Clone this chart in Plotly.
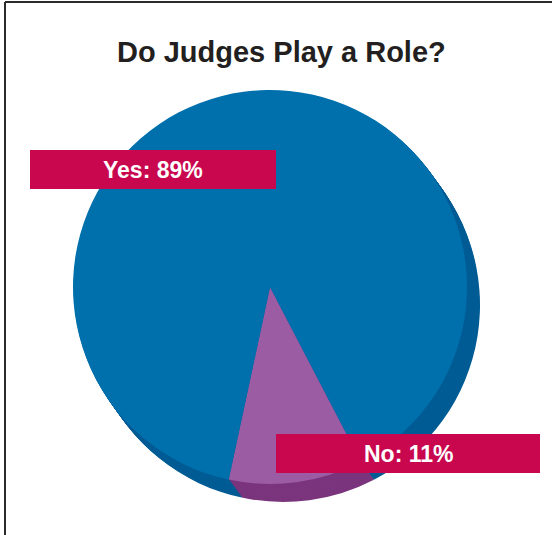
import plotly.graph_objects as go

# Survey result
labels = ["No", "Yes"]
values = [11, 89]

# Colours for the top face and the extruded side of each slice
face_colors = ["#9C5CA3", "#0070AD"]
side_colors = ["#7A357D", "#005C95"]
box_color = "#C8074F"

W, H = 552, 535

def px(x):
    return x / W

def py(y):
    return 1 - y / H

# Pie geometry (pixels)
cx, cy, r = 270, 287, 197
depth_x, depth_y = 13, 18
steps = 18

def domain(ox, oy):
    return dict(x=[px(cx + ox - r), px(cx + ox + r)],
                y=[py(cy + oy + r), py(cy + oy - r)])

fig = go.Figure()

common = dict(labels=labels, values=values, sort=False, direction="clockwise",
              rotation=152.5, textinfo="none", hoverinfo="label+percent",
              showlegend=False)

# Extruded side: stack of offset pies drawn behind the face
for i in range(steps, 0, -1):
    t = i / steps
    fig.add_trace(go.Pie(domain=domain(depth_x * t, depth_y * t),
                         marker=dict(colors=side_colors, line=dict(width=0)),
                         **common))

# Top face
fig.add_trace(go.Pie(domain=domain(0, 0),
                     marker=dict(colors=face_colors, line=dict(width=0)),
                     **common))

label_font = dict(family="Liberation Sans, Arial, sans-serif", size=23, color="white")
boxes = {"Yes": (30, 150, 276, 189), "No": (276, 434, 540, 473)}

shapes = []
annotations = []
for lab, val in zip(labels, values):
    x0, y0, x1, y1 = boxes[lab]
    shapes.append(dict(type="rect", xref="paper", yref="paper",
                       x0=px(x0), x1=px(x1), y0=py(y1), y1=py(y0),
                       fillcolor=box_color, line=dict(width=0), layer="above"))
    annotations.append(dict(text=f"<b>{lab}: {val}%</b>", xref="paper", yref="paper",
                            x=px((x0 + x1) / 2), y=py((y0 + y1) / 2),
                            xanchor="center", yanchor="middle", showarrow=False,
                            font=label_font))

# Frame lines on the left and top
shapes.append(dict(type="line", xref="paper", yref="paper",
                   x0=px(5), x1=px(5), y0=0, y1=py(2),
                   line=dict(color="#2B2B2B", width=2)))
shapes.append(dict(type="line", xref="paper", yref="paper",
                   x0=px(5), x1=1, y0=py(2), y1=py(2),
                   line=dict(color="#2B2B2B", width=2)))

annotations.append(dict(text="<b>Do Judges Play a Role?</b>", xref="paper", yref="paper",
                        x=px(281), y=py(52), xanchor="center", yanchor="middle",
                        showarrow=False,
                        font=dict(family="Liberation Sans, Arial, sans-serif",
                                  size=29, color="#231F20")))

fig.update_layout(width=W, height=H, margin=dict(l=0, r=0, t=0, b=0),
                  paper_bgcolor="white", plot_bgcolor="white",
                  shapes=shapes, annotations=annotations)

fig.write_html("out.html")
